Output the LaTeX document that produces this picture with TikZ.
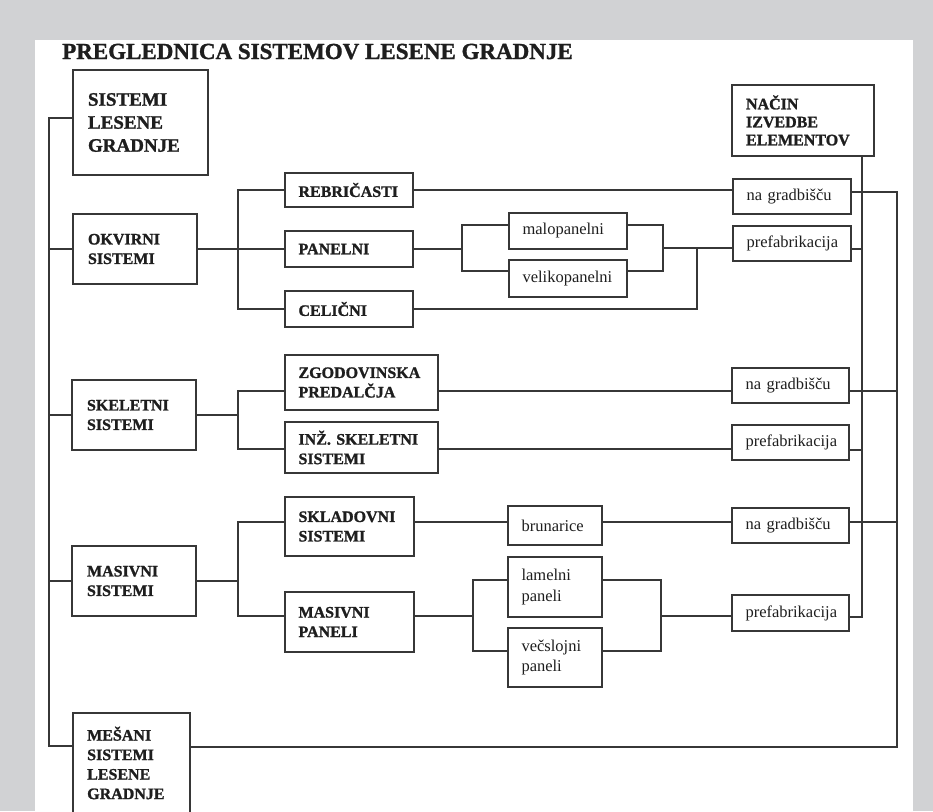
\documentclass[tikz,border=0pt]{standalone}
\usepackage{fontspec}
\setmainfont{Liberation Serif}[BoldFeatures={FakeBold=1.3}]
\definecolor{bggray}{RGB}{209,210,212}
\definecolor{linec}{RGB}{55,55,55}
\definecolor{textc}{RGB}{30,30,30}
\tikzset{
  box/.style={draw=linec, line width=1.5pt, fill=white, inner xsep=13.5pt, inner ysep=0pt, align=left, text=textc, anchor=center},
  bfs/.style={font=\bfseries\fontsize{16}{19.5}\selectfont},
  rms/.style={font=\fontsize{16.5}{20.5}\selectfont},
  conn/.style={draw=linec, line width=1.5pt},
}
\begin{document}
\begin{tikzpicture}[x=1pt,y=-1pt]
\useasboundingbox (0,0) rectangle (933,811);
\fill[bggray] (0,0) rectangle (933,811);
\fill[white] (35,40) rectangle (913,811);

\node[anchor=base west, inner sep=0, text=textc, font=\bfseries\fontsize{23}{28}\selectfont] (title) at (62,59) {PREGLEDNICA SISTEMOV LESENE GRADNJE};

% level 1
\node[box, inner xsep=15pt, font=\bfseries\fontsize{19}{23}\selectfont, minimum width=135pt, minimum height=105pt, text width=105pt] (slg) at (140.5,122.5) {SISTEMI\\LESENE\\GRADNJE};
\node[box, bfs, inner xsep=15pt, minimum width=124pt, minimum height=70pt, text width=94pt] (okv) at (135,249) {OKVIRNI\\SISTEMI};
\node[box, bfs, inner xsep=15pt, minimum width=124pt, minimum height=70pt, text width=94pt] (skel) at (134,415) {SKELETNI\\SISTEMI};
\node[box, bfs, inner xsep=15pt, minimum width=124pt, minimum height=70pt, text width=94pt] (mas) at (134,581) {MASIVNI\\SISTEMI};
\node[draw=linec, line width=1.5pt, fill=white, anchor=north west, minimum width=117pt, minimum height=150pt, inner sep=0pt] (mes) at (72,712) {};
\node[anchor=north west, inner sep=0pt, bfs, text=textc, text width=100pt, align=left] (mestxt) at ([xshift=15pt,yshift=-14.5pt]mes.north west) {MEŠANI\\SISTEMI\\LESENE\\GRADNJE};

% right header
\node[box, font=\bfseries\fontsize{16}{18}\selectfont, inner xsep=14pt, minimum width=142pt, minimum height=71pt, text width=114pt] (nacin) at (803,120.5) {NAČIN\\IZVEDBE\\ELEMENTOV};

% level 2
\node[box, bfs, minimum width=128pt, minimum height=34pt, text width=101pt] (reb) at (349,190) {REBRIČASTI};
\node[box, bfs, minimum width=128pt, minimum height=36pt, text width=101pt] (pan) at (349,249) {PANELNI};
\node[box, bfs, minimum width=128pt, minimum height=36pt, text width=101pt] (cel) at (349,309) {CELIČNI};
\node[box, bfs, minimum width=153pt, minimum height=55pt, text width=126pt] (zgod) at (361.5,382.5) {ZGODOVINSKA\\PREDALČJA};
\node[box, bfs, minimum width=153pt, minimum height=51pt, text width=126pt] (inz) at (361.5,447.5) {INŽ. SKELETNI\\SISTEMI};
\node[box, bfs, minimum width=129pt, minimum height=59pt, text width=102pt] (sklad) at (349.5,526.5) {SKLADOVNI\\SISTEMI};
\node[box, bfs, minimum width=129pt, minimum height=60pt, text width=102pt] (mpan) at (349.5,622) {MASIVNI\\PANELI};

% level 3
\node[box, rms, minimum width=118pt, minimum height=36pt, text width=91pt] (malo) at (568,231) {malopanelni};
\node[box, rms, minimum width=118pt, minimum height=37pt, text width=91pt] (veli) at (568,278.5) {velikopanelni};
\node[box, rms, minimum width=94pt, minimum height=39pt, text width=67pt] (brun) at (555,525.5) {brunarice};
\node[box, rms, minimum width=94pt, minimum height=60pt, text width=67pt] (lam) at (555,587) {lamelni\\paneli};
\node[box, rms, minimum width=94pt, minimum height=59pt, text width=67pt] (vec) at (555,657.5) {večslojni\\paneli};

% level 4
\node[box, rms, minimum width=118pt, minimum height=35pt, text width=91pt] (ng1) at (792,196.5) {na gradbišču};
\node[box, rms, minimum width=118pt, minimum height=35pt, text width=91pt] (pf1) at (792,243.5) {prefabrikacija};
\node[box, rms, minimum width=117pt, minimum height=35pt, text width=90pt] (ng2) at (790.5,385.5) {na gradbišču};
\node[box, rms, minimum width=117pt, minimum height=35pt, text width=90pt] (pf2) at (790.5,442.5) {prefabrikacija};
\node[box, rms, minimum width=117pt, minimum height=35pt, text width=90pt] (ng3) at (790.5,525.5) {na gradbišču};
\node[box, rms, minimum width=117pt, minimum height=36pt, text width=90pt] (pf3) at (790.5,613) {prefabrikacija};

% helper coordinates (x positions of buses and forks, y levels of lines)
\coordinate (busT) at (49,118);
\coordinate (busB) at (49,746);
\coordinate (fA) at (238,0);
\coordinate (fB) at (462,0);
\coordinate (fC) at (663,0);
\coordinate (fD) at (697,0);
\coordinate (fE) at (473,0);
\coordinate (fF) at (661,0);
\coordinate (xi) at (862,0);
\coordinate (xo) at (897,0);
\coordinate (yReb) at (0,190);
\coordinate (yNg1) at (0,192);
\coordinate (yMalo) at (0,225);
\coordinate (yVeli) at (0,271);
\coordinate (yPan) at (0,248);
\coordinate (yPf1) at (0,249);
\coordinate (yZ) at (0,391);
\coordinate (yI) at (0,449);
\coordinate (yPf2) at (0,450);
\coordinate (yS) at (0,522);
\coordinate (yM) at (0,616);
\coordinate (yPf3) at (0,617);
\coordinate (yL) at (0,580);
\coordinate (yV) at (0,651);
\coordinate (yMes) at (0,747);

% left bus
\draw[conn] (busT -| slg.west) -- (busT) -- (busB) -- (busB -| mes.west);
\draw[conn] (okv.west) -- (okv.west -| busT);
\draw[conn] (skel.west) -- (skel.west -| busT);
\draw[conn] (mas.west) -- (mas.west -| busT);

% okvirni branch
\draw[conn] (okv.east) -- (okv.east -| fA);
\draw[conn] (reb.west) -- (reb.west -| fA) -- (cel.west -| fA) -- (cel.west);
\draw[conn] (pan.west -| fA) -- (pan.west);
\draw[conn] (reb.east |- yReb) -- (ng1.west |- yReb);
\draw[conn] (pan.east) -- (pan.east -| fB);
\draw[conn] (malo.west |- yMalo) -- (fB |- yMalo) -- (fB |- yVeli) -- (veli.west |- yVeli);
\draw[conn] (malo.east |- yMalo) -- (fC |- yMalo) -- (fC |- yVeli) -- (veli.east |- yVeli);
\draw[conn] (fC |- yPan) -- (pf1.west |- yPan);
\draw[conn] (cel.east) -- (cel.east -| fD) -- (fD |- yPan);

% skeletni branch
\draw[conn] (skel.east) -- (skel.east -| fA);
\draw[conn] (zgod.west |- yZ) -- (fA |- yZ) -- (fA |- yI) -- (inz.west |- yI);
\draw[conn] (zgod.east |- yZ) -- (ng2.west |- yZ);
\draw[conn] (inz.east |- yI) -- (pf2.west |- yI);

% masivni branch
\draw[conn] (mas.east) -- (mas.east -| fA);
\draw[conn] (sklad.west |- yS) -- (fA |- yS) -- (fA |- yM) -- (mpan.west |- yM);
\draw[conn] (sklad.east |- yS) -- (brun.west |- yS);
\draw[conn] (brun.east |- yS) -- (ng3.west |- yS);
\draw[conn] (mpan.east |- yM) -- (fE |- yM);
\draw[conn] (lam.west |- yL) -- (fE |- yL) -- (fE |- yV) -- (vec.west |- yV);
\draw[conn] (lam.east |- yL) -- (fF |- yL) -- (fF |- yV) -- (vec.east |- yV);
\draw[conn] (fF |- yM) -- (pf3.west |- yM);

% right buses
\draw[conn] (nacin.south -| xi) -- (xi |- yPf3) -- (pf3.east |- yPf3);
\draw[conn] (pf1.east |- yPf1) -- (xi |- yPf1);
\draw[conn] (pf2.east |- yPf2) -- (xi |- yPf2);
\draw[conn] (ng1.east |- yNg1) -- (xo |- yNg1) -- (xo |- yMes) -- (mes.east |- yMes);
\draw[conn] (ng2.east |- yZ) -- (xo |- yZ);
\draw[conn] (ng3.east |- yS) -- (xo |- yS);
\end{tikzpicture}
\end{document}
